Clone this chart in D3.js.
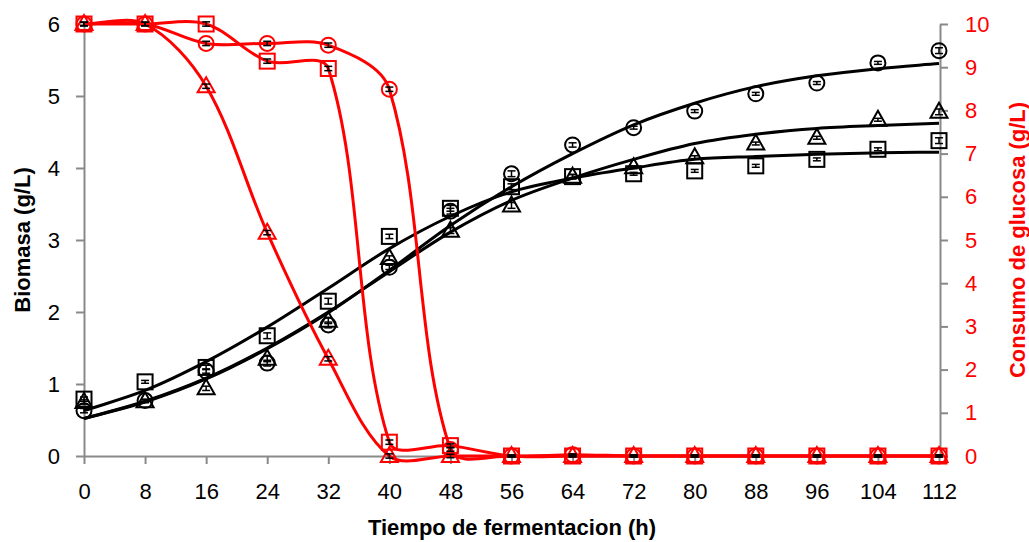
<!DOCTYPE html>
<html>
<head>
<meta charset="utf-8">
<script src="https://cdnjs.cloudflare.com/ajax/libs/d3/7.8.5/d3.min.js"></script>
<style>
  body { margin: 0; background: #fff; }
  text { font-family: "Liberation Sans", Arial, sans-serif; }
</style>
</head>
<body>
<svg id="chart" width="1029" height="542"></svg>
<script>
// time points (h)
const horas = [0, 8, 16, 24, 32, 40, 48, 56, 64, 72, 80, 88, 96, 104, 112];

// biomass (g/L), measured
const bioCirculo = [0.63, 0.77, 1.18, 1.29, 1.82, 2.62, 3.40, 3.92, 4.32, 4.56, 4.79, 5.03, 5.18, 5.46, 5.63];
const bioTriangulo = [0.75, 0.76, 0.94, 1.35, 1.88, 2.75, 3.13, 3.48, 3.88, 4.01, 4.15, 4.34, 4.42, 4.67, 4.78];
const bioCuadrado = [0.79, 1.03, 1.23, 1.67, 2.15, 3.05, 3.44, 3.74, 3.88, 3.92, 3.96, 4.03, 4.12, 4.26, 4.38];
const errBio = [0.03, 0.02, 0.03, 0.04, 0.04, 0.03, 0.04, 0.04, 0.03, 0.02, 0.02, 0.02, 0.02, 0.02, 0.04];

// biomass model fit (g/L)
const ajusteCirculo = [0.52, 0.75, 1.07, 1.49, 1.99, 2.58, 3.20, 3.74, 4.20, 4.60, 4.90, 5.13, 5.28, 5.38, 5.45];
const ajusteTriangulo = [0.52, 0.76, 1.08, 1.50, 2.00, 2.56, 3.11, 3.55, 3.86, 4.12, 4.34, 4.47, 4.55, 4.59, 4.62];
const ajusteCuadrado = [0.63, 0.91, 1.31, 1.79, 2.33, 2.88, 3.33, 3.67, 3.86, 4.00, 4.12, 4.16, 4.19, 4.21, 4.22];

// glucose (g/L)
const gluCirculo = [10, 10, 9.55, 9.55, 9.51, 8.49, 0.15, 0, 0.03, 0, 0, 0, 0, 0, 0];
const gluTriangulo = [10, 10, 8.56, 5.17, 2.25, 0, 0, 0, 0, 0, 0, 0, 0, 0, 0];
const gluCuadrado = [10, 10, 10, 9.14, 8.97, 0.32, 0.24, 0, 0, 0, 0, 0, 0, 0, 0];
const errGlu = [0.04, 0.04, 0.05, 0.05, 0.05, 0.05, 0.04, 0.02, 0.02, 0.02, 0.02, 0.02, 0.02, 0.02, 0.02];

const ticksX = [0, 8, 16, 24, 32, 40, 48, 56, 64, 72, 80, 88, 96, 104, 112];
const ticksBio = [0, 1, 2, 3, 4, 5, 6];
const ticksGlu = [0, 1, 2, 3, 4, 5, 6, 7, 8, 9, 10];

const svg = d3.select("#chart");
const red = "#ff0000";
const axisGray = "#898989";

const x = d3.scaleLinear().domain([0, 112]).range([84, 939]);
const yL = d3.scaleLinear().domain([0, 6]).range([456, 24]);
const yR = d3.scaleLinear().domain([0, 10]).range([456, 24]);

// smoothed line like a spreadsheet: bezier arms scaled by neighbouring segment lengths
function curveSuave(context) {
  let pts;
  const dist = (a, b) => Math.hypot(b[0] - a[0], b[1] - a[1]);
  return {
    areaStart() {}, areaEnd() {},
    lineStart() { pts = []; },
    point(px, py) { pts.push([+px, +py]); },
    lineEnd() {
      const n = pts.length;
      if (!n) return;
      context.moveTo(pts[0][0], pts[0][1]);
      for (let i = 0; i < n - 1; i++) {
        const p0 = pts[Math.max(i - 1, 0)], p1 = pts[i], p2 = pts[i + 1], p3 = pts[Math.min(i + 2, n - 1)];
        const d01 = dist(p0, p1), d12 = dist(p1, p2), d23 = dist(p2, p3);
        const f1 = d12 / (d01 + d12 || 1) / 3;
        const f2 = d12 / (d12 + d23 || 1) / 3;
        context.bezierCurveTo(
          p1[0] + (p2[0] - p0[0]) * f1, p1[1] + (p2[1] - p0[1]) * f1,
          p2[0] - (p3[0] - p1[0]) * f2, p2[1] - (p3[1] - p1[1]) * f2,
          p2[0], p2[1]);
      }
    }
  };
}

// axes
function styleAxis(g, color) {
  g.selectAll("path, line").attr("stroke", axisGray).attr("stroke-width", 2);
  g.selectAll("text").attr("fill", color).style("font-size", "22px");
}

svg.append("g")
  .attr("transform", "translate(0,456)")
  .call(d3.axisBottom(x).tickValues(ticksX).tickSize(8).tickSizeOuter(0).tickPadding(19))
  .call(g => styleAxis(g, "#000"));

svg.append("g")
  .attr("transform", "translate(84,0)")
  .call(d3.axisLeft(yL).tickValues(ticksBio).tickFormat(d3.format("d")).tickSize(8).tickSizeOuter(0).tickPadding(16))
  .call(g => styleAxis(g, "#000"));

svg.append("g")
  .attr("transform", "translate(940,0)")
  .call(d3.axisRight(yR).tickValues(ticksGlu).tickFormat(d3.format("d")).tickSize(8).tickSizeOuter(0).tickPadding(17))
  .call(g => styleAxis(g, red));

// titles
svg.append("text")
  .attr("transform", "translate(30,240) rotate(-90)")
  .attr("text-anchor", "middle")
  .style("font-size", "22px").style("font-weight", "bold")
  .text("Biomasa (g/L)");

svg.append("text")
  .attr("transform", "translate(1025,240) rotate(-90)")
  .attr("text-anchor", "middle")
  .attr("fill", red)
  .style("font-size", "22px").style("font-weight", "bold")
  .text("Consumo de glucosa (g/L)");

svg.append("text")
  .attr("x", 512).attr("y", 535)
  .attr("text-anchor", "middle")
  .style("font-size", "22px").style("font-weight", "bold")
  .text("Tiempo de fermentacion (h)");

// lines
function drawLine(values, y, color) {
  const line = d3.line()
    .x((d, i) => x(horas[i]))
    .y(d => y(d))
    .curve(curveSuave);
  svg.append("path")
    .datum(values)
    .attr("d", line)
    .attr("fill", "none")
    .attr("stroke", color)
    .attr("stroke-width", 3);
}

function drawMarkers(values, y, color, shape) {
  const g = svg.append("g");
  values.forEach((v, i) => {
    const cx = x(horas[i]), cy = y(v);
    if (shape === "circle") {
      g.append("circle").attr("cx", cx).attr("cy", cy).attr("r", 7.5);
    } else if (shape === "square") {
      g.append("rect").attr("x", cx - 7.5).attr("y", cy - 7.5).attr("width", 15).attr("height", 15);
    } else {
      g.append("path").attr("d", `M${cx},${cy - 9}L${cx + 8.5},${cy + 6}L${cx - 8.5},${cy + 6}Z`);
    }
  });
  g.selectAll("*").attr("fill", "none").attr("stroke", color).attr("stroke-width", 2);
}

function drawErrors(values, errs, y) {
  const g = svg.append("g").attr("stroke", "#000").attr("stroke-width", 1.5);
  values.forEach((v, i) => {
    const cx = x(horas[i]);
    const lo = y(v - errs[i]), hi = y(v + errs[i]);
    g.append("line").attr("x1", cx).attr("x2", cx).attr("y1", lo).attr("y2", hi);
    g.append("line").attr("x1", cx - 4).attr("x2", cx + 4).attr("y1", lo).attr("y2", lo);
    g.append("line").attr("x1", cx - 4).attr("x2", cx + 4).attr("y1", hi).attr("y2", hi);
  });
}

// biomass: fitted curves + observed points
drawLine(ajusteCirculo, yL, "#000");
drawLine(ajusteTriangulo, yL, "#000");
drawLine(ajusteCuadrado, yL, "#000");
drawMarkers(bioCirculo, yL, "#000", "circle");
drawMarkers(bioTriangulo, yL, "#000", "triangle");
drawMarkers(bioCuadrado, yL, "#000", "square");

// glucose
drawLine(gluCirculo, yR, red);
drawLine(gluTriangulo, yR, red);
drawLine(gluCuadrado, yR, red);
drawMarkers(gluCirculo, yR, red, "circle");
drawMarkers(gluTriangulo, yR, red, "triangle");
drawMarkers(gluCuadrado, yR, red, "square");

// error bars
drawErrors(bioCirculo, errBio, yL);
drawErrors(bioTriangulo, errBio, yL);
drawErrors(bioCuadrado, errBio, yL);
drawErrors(gluCirculo, errGlu, yR);
drawErrors(gluTriangulo, errGlu, yR);
drawErrors(gluCuadrado, errGlu, yR);
</script>
</body>
</html>
